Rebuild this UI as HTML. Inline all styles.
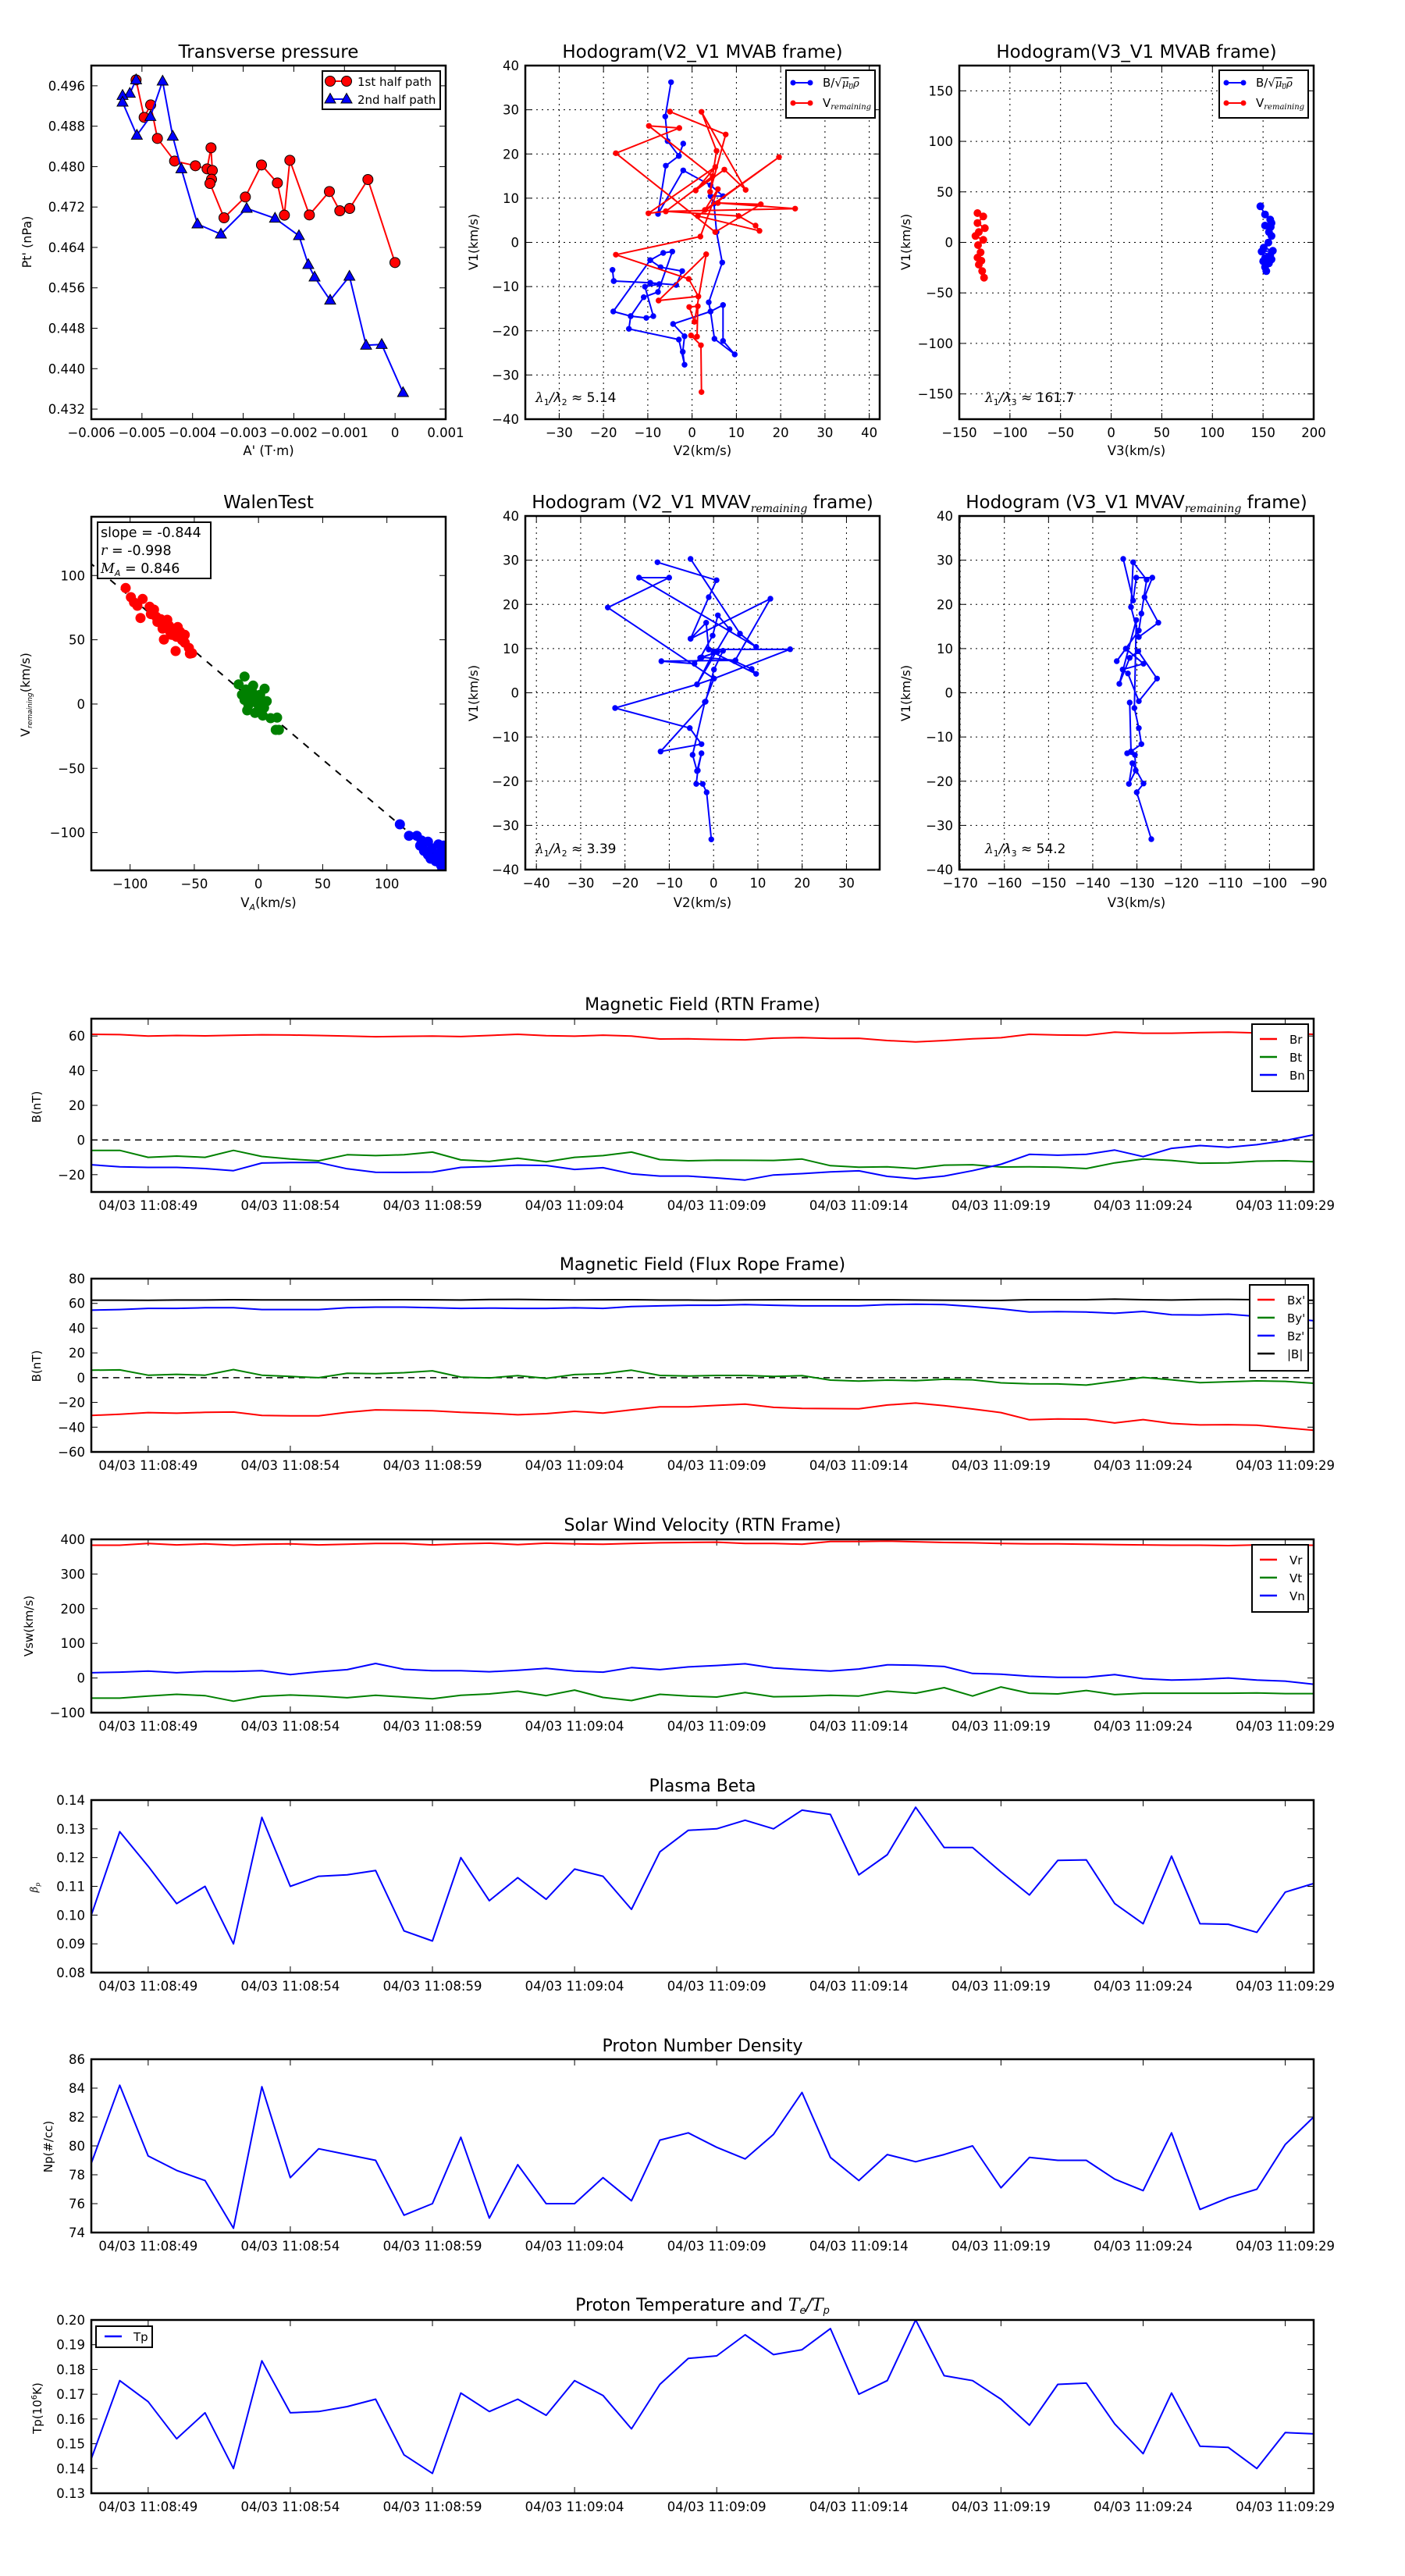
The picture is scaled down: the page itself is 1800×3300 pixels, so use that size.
<!DOCTYPE html>
<html><head><meta charset="utf-8">
<style>
html,body{margin:0;padding:0;background:#fff;}
svg{display:block;font-family:"DejaVu Sans","Liberation Sans",sans-serif;}
</style></head>
<body>
<svg id="s" width="1800" height="3300" viewBox="0 0 1800 3300" xmlns="http://www.w3.org/2000/svg"></svg>
<script>
var S=[];
function A(s){S.push(s);}
function T(x,y,t,size,anchor,extra){A('<text x="'+x+'" y="'+y+'" font-size="'+size+'" text-anchor="'+(anchor||'start')+'" '+(extra||'')+'>'+t+'</text>');}
function L(x1,y1,x2,y2,c,w,extra){A('<line x1="'+x1+'" y1="'+y1+'" x2="'+x2+'" y2="'+y2+'" stroke="'+(c||'#000')+'" stroke-width="'+(w||1)+'" '+(extra||'')+'/>');}
function PL(pts,c,w){A('<polyline fill="none" stroke="'+c+'" stroke-width="'+(w||2)+'" stroke-linejoin="round" points="'+pts.map(function(p){return p[0].toFixed(1)+','+p[1].toFixed(1)}).join(' ')+'"/>');}
function fmtNeg(v){return (v<0?'\u2212':'')+Math.abs(v);}
var cid=0;
function axes(o){
  var Lx=o.L,R=o.R,Tp=o.T,B=o.B;
  var xm=function(v){return Lx+(v-o.x0)/(o.x1-o.x0)*(R-Lx);};
  var ym=function(v){return B-(v-o.y0)/(o.y1-o.y0)*(B-Tp);};
  o.xm=xm;o.ym=ym;
  cid++;o.clip='c'+cid;
  A('<clipPath id="c'+cid+'"><rect x="'+Lx+'" y="'+Tp+'" width="'+(R-Lx)+'" height="'+(B-Tp)+'"/></clipPath>');
  (o.xt||[]).forEach(function(t){var x=xm(t[0]);
    if(o.grid)L(x,Tp,x,B,'#000',1,'stroke-dasharray="2,5"');
    L(x,B,x,B-8);L(x,Tp,x,Tp+8);
    T(x,o.xly||(B+23),t[1],o.fs||16.5,'middle');});
  (o.yt||[]).forEach(function(t){var y=ym(t[0]);
    if(o.grid)L(Lx,y,R,y,'#000',1,'stroke-dasharray="2,5"');
    L(Lx,y,Lx+8,y);L(R,y,R-8,y);
    T(Lx-8,y+6,t[1],o.fs||16.5,'end');});
  return o;
}
function frame(o){A('<rect x="'+o.L+'" y="'+o.T+'" width="'+(o.R-o.L)+'" height="'+(o.B-o.T)+'" fill="none" stroke="#000" stroke-width="2.5"/>');}
function rng(a,b,s,f){var r=[];for(var v=a;v<=b+1e-9;v+=s){var vv=Math.round(v*1e6)/1e6;r.push([vv,f?f(vv):fmtNeg(vv)]);}return r;}
function ylab(x,y,t,size){A('<text x="'+x+'" y="'+y+'" font-size="'+(size||15)+'" text-anchor="middle" transform="rotate(-90 '+x+' '+y+')">'+t+'</text>');}
function dots(pts,c,r,clip){var s='<g fill="'+c+'"'+(clip?' clip-path="url(#'+clip+')"':'')+'>';pts.forEach(function(p){s+='<circle cx="'+p[0].toFixed(1)+'" cy="'+p[1].toFixed(1)+'" r="'+r+'"/>';});A(s+'</g>');}
function Z(ox,oy,arr){var r=[];for(var i=0;i<arr.length;i+=2)r.push([ox+arr[i]/3,oy+arr[i+1]/3]);return r;}

var tp=axes({L:117,R:571,T:84,B:537,x0:-0.006,x1:0.001,y0:0.43,y1:0.5,
 xt:rng(-0.006,0.001,0.001,function(v){return fmtNeg(v.toFixed(3));}),
 yt:rng(0.432,0.496,0.008,function(v){return v.toFixed(3);})});
T(344,74,'Transverse pressure',23,'middle');
T(344,583,"A' (T\u00b7m)",16.5,'middle');
ylab(40,310,"Pt' (nPa)",16);
var red=Z(117,84,[172,55,203,199,228,151,254,280,320,367,400,385,445,397,460,316,465,403,462,437,456,453,510,585,592,505,654,382,715,451,742,575,763,364,838,574,915,484,955,558,993,549,1063,438,1167,757]);
var blu=Z(117,84,[172,55,148,107,120,115,120,141,175,268,227,196,274,60,313,272,346,397,408,609,498,648,597,549,706,587,798,654,834,765,858,813,918,902,992,810,1056,1075,1116,1072,1198,1257]);
PL(red,'#f00',2);
red.forEach(function(p){A('<circle cx="'+p[0]+'" cy="'+p[1]+'" r="6.5" fill="#f00" stroke="#000" stroke-width="1"/>');});
PL(blu,'#00f',2);
function tri(x,y,c){A('<polygon points="'+x+','+(y-7.5)+' '+(x-7)+','+(y+5)+' '+(x+7)+','+(y+5)+'" fill="'+c+'" stroke="#000" stroke-width="1"/>');}
blu.forEach(function(p){tri(p[0],p[1],'#00f');});
frame(tp);
A('<rect x="413" y="91" width="151" height="49" fill="#fff" stroke="#000" stroke-width="2"/>');
L(423,104,444,104,'#f00',2);A('<circle cx="423" cy="104" r="6.5" fill="#f00" stroke="#000"/><circle cx="444" cy="104" r="6.5" fill="#f00" stroke="#000"/>');
L(423,127,444,127,'#00f',2);tri(423,127,'#00f');tri(444,127,'#00f');
T(458,110,'1st half path',15);T(458,133,'2nd half path',15);

function hlegend(x,y){
  A('<rect x="'+x+'" y="'+y+'" width="114" height="61" fill="#fff" stroke="#000" stroke-width="2"/>');
  L(x+9,y+16,x+31,y+16,'#00f',2);dots([[x+9,y+16],[x+31,y+16]],'#00f',3.5);
  L(x+9,y+42,x+31,y+42,'#f00',2);dots([[x+9,y+42],[x+31,y+42]],'#f00',3.5);
  A('<text x="'+(x+47)+'" y="'+(y+21)+'" font-size="15">B/\u221a<tspan font-style="italic" font-family="DejaVu Serif,serif" font-size="13" text-decoration="overline">\u03bc<tspan font-size="9" dy="3">0</tspan><tspan dy="-3">\u03c1</tspan></tspan></text>');
  A('<text x="'+(x+47)+'" y="'+(y+47)+'" font-size="15">V<tspan font-style="italic" font-family="DejaVu Serif,serif" font-size="10" dy="3">remaining</tspan></text>');
}
function lam(x,y,n,v){A('<text x="'+x+'" y="'+y+'" font-size="17"><tspan font-style="italic" font-family="DejaVu Serif,serif">\u03bb</tspan><tspan font-size="11" dy="4">1</tspan><tspan dy="-4" font-style="italic">/\u03bb</tspan><tspan font-size="11" dy="4">'+n+'</tspan><tspan dy="-4"> \u2248 '+v+'</tspan></text>');}

var h2=axes({L:673,R:1127,T:84,B:537,x0:-37.65,x1:42.35,y0:-40,y1:40,grid:true,
 xt:rng(-30,40,10),yt:rng(-40,40,10)});
T(900,74,'Hodogram(V2_V1 MVAB frame)',23,'middle');
T(900,583,'V2(km/s)',16.5,'middle');ylab(612,310,'V1(km/s)',16);
var hb=Z(673,84,[560,64,538,196,547,290,590,347,607,300,590,347,540,385,510,570,607,403,712,460,760,502,712,502,725,530,735,640,757,757,705,910,712,945,760,920,760,1058,805,1110,727,1050,712,945,568,993,612,1040,605,1100,612,1150,590,1053,398,1012,405,963,465,970,492,963,460,850,515,840,480,835,340,828,335,785,340,828,480,835,580,843,603,790,520,775,480,748,530,720,565,715,510,870,455,890,405,963,338,945,480,748]);
var hr=Z(673,84,[556,177,770,265,710,485,735,328,677,178,847,478,765,400,655,480,730,390,473,568,540,560,720,425,475,232,592,240,348,337,730,640,905,533,740,528,1037,550,540,560,820,578,885,615,900,635,663,578,975,352,690,555,740,475,673,657,348,727,628,820,665,887,512,903,695,725,650,985,630,928,663,925,660,1042,637,1037,675,1075,677,1255]);
PL(hb,'#00f',2);dots(hb,'#00f',3.7);PL(hr,'#f00',2);dots(hr,'#f00',3.7);
frame(h2);hlegend(1007,90);lam(686,515,2,'5.14');

var h3=axes({L:1229,R:1683,T:84,B:537,x0:-150,x1:200,y0:-175,y1:175,grid:true,
 xt:rng(-150,200,50),yt:rng(-150,150,50)});
T(1456,74,'Hodogram(V3_V1 MVAB frame)',23,'middle');
T(1456,583,'V3(km/s)',16.5,'middle');ylab(1166,310,'V1(km/s)',16);
var r3=Z(1229,84,[70,567,92,580,70,605,98,625,75,640,62,655,92,670,72,690,82,718,70,738,85,750,75,765,88,790,95,815]);
var b3=Z(1229,84,[1157,541,1175,572,1195,592,1200,605,1175,615,1197,620,1190,640,1200,655,1188,680,1170,700,1205,712,1162,715,1195,730,1175,740,1200,745,1168,752,1190,760,1175,775,1180,790]);
PL(r3,'#f00',2);dots(r3,'#f00',5);PL(b3,'#00f',2);dots(b3,'#00f',5);
frame(h3);hlegend(1562,90);lam(1262,515,3,'161.7');

var w=axes({L:117,R:571,T:662,B:1115,x0:-130.2,x1:145.8,y0:-129.4,y1:145.7,
 xt:rng(-100,100,50),yt:rng(-100,100,50)});
T(344,651,'WalenTest',23,'middle');
A('<text x="344" y="1162" font-size="16.5" text-anchor="middle">V<tspan font-size="11" font-style="italic" dy="4">A</tspan><tspan dy="-4">(km/s)</tspan></text>');
A('<text x="38" y="890" font-size="16" text-anchor="middle" transform="rotate(-90 38 890)">V<tspan font-size="9" font-style="italic" dy="3">remaining</tspan><tspan dy="-3">(km/s)</tspan></text>');
A('<g clip-path="url(#'+w.clip+')"><line x1="100" y1="708" x2="580" y2="1114" stroke="#000" stroke-width="2" stroke-dasharray="9,9"/></g>');
var wr=Z(100,650,[183,310,203,345,215,365,228,378,248,352,275,382,292,393,280,410,240,425,318,430,343,432,325,466,350,455,366,470,383,460,392,478,378,497,410,490,330,508,410,520,426,540,375,552,430,562,438,560,395,500,360,490,300,420,340,450,305,440,355,480,400,510]);
var wg=Z(100,650,[640,650,617,680,645,700,673,685,717,697,630,720,660,730,700,720,725,745,655,760,695,765,650,780,680,790,710,800,740,810,765,808,760,855,772,855,690,740,705,780,670,710,640,740,685,750,715,770]);
var wb=Z(100,650,[1237,1218,1272,1262,1302,1262,1320,1280,1345,1285,1385,1295,1360,1310,1330,1320,1400,1320,1345,1335,1380,1340,1400,1345,1375,1360,1395,1375,1400,1390,1405,1300,1315,1300,1355,1350,1390,1330]);
dots(wr,'#f00',6.5,w.clip);dots(wg,'#008000',6.5,w.clip);dots(wb,'#00f',6.5,w.clip);
frame(w);
A('<rect x="125" y="669" width="145" height="72" fill="#fff" stroke="#000" stroke-width="2"/>');
T(129,688,'slope = -0.844',17.5);
A('<text x="129" y="711" font-size="17.5"><tspan font-style="italic" font-family="DejaVu Serif,serif">r</tspan> = -0.998</text>');
A('<text x="129" y="734" font-size="17.5"><tspan font-style="italic" font-family="DejaVu Serif,serif">M</tspan><tspan font-size="11" font-style="italic" dy="4">A</tspan><tspan dy="-4"> = 0.846</tspan></text>');

var g2=axes({L:673,R:1127,T:661,B:1114,x0:-42.5,x1:37.5,y0:-40,y1:40,grid:true,
 xt:rng(-40,30,10),yt:rng(-40,40,10),xly:1137});
A('<text x="900" y="651" font-size="23" text-anchor="middle">Hodogram (V2_V1 MVAV<tspan font-size="14" font-style="italic" font-family="DejaVu Serif,serif" dy="5">remaining</tspan><tspan dy="-5"> frame)</tspan></text>');
T(900,1162,'V2(km/s)',16.5,'middle');ylab(612,888,'V1(km/s)',16);
var p2=Z(673,661,[635,165,825,452,887,503,437,237,553,237,317,352,725,625,1018,512,705,513,695,410,635,472,942,318,805,558,870,588,887,607,723,525,660,647,785,435,740,382,720,460,672,545,650,568,523,558,808,555,678,543,738,523,760,518,725,590,693,713,520,905,677,877,632,815,345,738,660,647,725,625,690,715,643,918,660,980,677,912,663,978,657,1030,682,1030,697,1062,715,1243]);
var p2b=Z(673,661,[508,178,735,247,705,312,635,472]);
PL(p2,'#00f',2);PL(p2b,'#00f',2);dots(p2,'#00f',3.7);dots(p2b,'#00f',3.7);
frame(g2);lam(686,1093,2,'3.39');

var g3=axes({L:1229,R:1683,T:661,B:1114,x0:-170.2,x1:-90,y0:-40,y1:40,grid:true,
 xt:rng(-170,-90,10),yt:rng(-40,40,10),xly:1137});
A('<text x="1456" y="651" font-size="23" text-anchor="middle">Hodogram (V3_V1 MVAV<tspan font-size="14" font-style="italic" font-family="DejaVu Serif,serif" dy="5">remaining</tspan><tspan dy="-5"> frame)</tspan></text>');
T(1456,1162,'V3(km/s)',16.5,'middle');ylab(1166,888,'V1(km/s)',16);
var p3=Z(1229,661,[630,165,668,325,680,237,742,237,712,312,765,410,690,465,660,350,668,178,720,245,700,375,690,440,605,558,640,510,708,568,628,590,648,605,690,712,760,625,688,520,655,545,615,645,680,400,673,738,690,815,700,877,660,905,655,717,660,905,645,912,675,918,678,978,652,1030,665,950,708,1028,682,1062,738,1242]);
PL(p3,'#00f',2);dots(p3,'#00f',3.7);
frame(g3);lam(1262,1093,3,'54.2');

var tlabels=['04/03 11:08:49','04/03 11:08:54','04/03 11:08:59','04/03 11:09:04','04/03 11:09:09','04/03 11:09:14','04/03 11:09:19','04/03 11:09:24','04/03 11:09:29'];
function ts(o){
  o.L=117;o.R=1683;o.x0=0;o.x1=43;
  o.xt=tlabels.map(function(l,k){return [2+5*k,l];});
  o.xly=o.B+23;
  axes(o);
  if(o.title)T(900,o.title_y,o.title,22,'middle');
  if(o.zero)L(o.L,o.ym(0),o.R,o.ym(0),'#000',1.5,'stroke-dasharray="8,6"');
  A('<g clip-path="url(#'+o.clip+')">');
  o.series.forEach(function(s){PL(s.d.map(function(v,i){return [o.xm(i),o.ym(v)];}),s.c,2);});
  A('</g>');
  frame(o);
  return o;
}
function legend(x,y,w,items){
  var h=items.length*24+14;
  A('<rect x="'+x+'" y="'+y+'" width="'+w+'" height="'+h+'" fill="#fff" stroke="#000" stroke-width="2"/>');
  items.forEach(function(it,i){var yy=y+19+i*23;L(x+10,yy,x+32,yy,it[1],2.5);T(x+48,yy+6,it[0],15);});
}
var Br=[61,60.8,60,60.3,60.1,60.4,60.7,60.6,60.3,60,59.6,59.8,60,59.7,60.3,61,60.2,59.9,60.5,60,58.3,58.4,58,57.8,58.8,59.1,58.6,58.7,57.4,56.6,57.4,58.4,59,61,60.6,60.4,62.2,61.6,61.6,62,62.2,61.8,61.6,61];
var Bt=[-6,-6,-10,-9.3,-10,-6,-9.5,-11,-12,-8.5,-9,-8.5,-7,-11.5,-12.3,-10.5,-12.5,-10,-9,-7,-11.3,-12,-11.6,-11.7,-11.8,-11,-14.8,-15.7,-15.5,-16.5,-14.5,-14.3,-15.6,-15.5,-15.7,-16.5,-13.2,-11,-11.8,-13.4,-13.2,-12.2,-12,-12.5];
var Bn=[-14.3,-15.5,-15.8,-15.8,-16.5,-17.7,-13.3,-13,-13,-16.6,-18.6,-18.7,-18.5,-15.8,-15.3,-14.5,-14.7,-17,-16,-19.5,-20.8,-20.8,-21.9,-23.1,-20.2,-19.4,-18.4,-17.8,-21,-22.4,-20.8,-17.7,-14,-8.3,-8.8,-8.3,-5.8,-9.6,-4.8,-3.2,-4.2,-2.7,-0.3,3];
ts({T:1305,B:1527,y0:-30,y1:70,yt:rng(-20,60,20),zero:true,title:'Magnetic Field (RTN Frame)',title_y:1294,
 series:[{d:Br,c:'#f00'},{d:Bt,c:'#008000'},{d:Bn,c:'#00f'}]});
ylab(52,1418,'B(nT)',15);
legend(1604,1312,72,[['Br','#f00'],['Bt','#008000'],['Bn','#00f']]);

var BB=[62.6,62.6,62.5,62.7,62.7,63,62.8,62.8,62.8,62.8,62.9,63,62.9,62.7,63.1,63.2,63,62.8,62.9,63,62.7,62.7,62.6,62.8,62.9,63,63,62.9,62.9,62.7,62.6,62.5,62.4,63,63,63,63.4,63,62.7,63.1,63.2,63,62.5,62.5];
var Bz=[54.5,55,56,56,56.5,56.5,55,55,55,56.5,57,57,56.5,56,56.2,56,56,56.4,56,57.5,58,58.5,58.5,59,58.5,58,58,58,59,59.3,59,57.5,55.5,53,53.3,53,52,53.5,50.8,50.6,51.3,49.5,48,46];
var By=[6,6.3,2,2.7,2,6.5,2,1,0,3.5,3.2,4,5.5,0.5,-0.2,1.6,-0.5,2.5,3.2,6,1.8,1.3,1.8,1.8,1,1.6,-2,-2.8,-2,-2.5,-1.3,-1.7,-4.2,-5,-5.1,-6,-3,0.2,-1.7,-4,-3.3,-2.6,-3,-4.5];
var Bx=[-30.5,-29.6,-28.2,-28.7,-28,-27.8,-30.5,-30.8,-30.8,-28,-26,-26.3,-26.7,-28,-28.8,-30,-29.1,-27.2,-28.6,-26,-23.6,-23.6,-22.4,-21.4,-24,-24.8,-25,-25.2,-22.1,-20.5,-22.6,-25.3,-28.2,-34,-33.3,-33.6,-36.6,-33.9,-37,-38.2,-38,-38.4,-40.5,-42.5];
ts({T:1638,B:1860,y0:-60,y1:80,yt:rng(-60,80,20),zero:true,title:'Magnetic Field (Flux Rope Frame)',title_y:1627,
 series:[{d:Bx,c:'#f00'},{d:By,c:'#008000'},{d:Bz,c:'#00f'},{d:BB,c:'#000'}]});
ylab(52,1750,'B(nT)',15);
legend(1601,1646,75,[["Bx'",'#f00'],["By'",'#008000'],["Bz'",'#00f'],['|B|','#000']]);

var Vr=[383,383,388,384,387,383,386,387,384,386,388,388,384,387,389,385,389,387,386,388,390,391,392,388,388,386,394,394,395,393,391,390,388,387,387,386,385,384,383,383,382,384,383,383];
var Vn=[15,17,20,15,19,19,21,10,18,24,42,25,21,21,18,22,28,20,17,30,24,32,36,41,29,24,20,26,38,37,33,13,11,5,2,2,10,-2,-6,-4,0,-6,-9,-18];
var Vt=[-58,-58,-52,-47,-51,-67,-53,-49,-52,-57,-50,-55,-60,-50,-46,-38,-51,-35,-56,-65,-47,-52,-55,-42,-54,-53,-50,-52,-38,-44,-28,-52,-26,-44,-46,-36,-48,-44,-44,-44,-44,-43,-45,-45];
ts({T:1972,B:2194,y0:-100,y1:400,yt:rng(-100,400,100),title:'Solar Wind Velocity (RTN Frame)',title_y:1961,
 series:[{d:Vr,c:'#f00'},{d:Vt,c:'#008000'},{d:Vn,c:'#00f'}]});
ylab(42,2083,'Vsw(km/s)',15);
legend(1604,1979,72,[['Vr','#f00'],['Vt','#008000'],['Vn','#00f']]);

var beta=[0.100,0.129,0.117,0.104,0.110,0.090,0.134,0.110,0.1135,0.114,0.1155,0.0945,0.091,0.120,0.105,0.113,0.1055,0.116,0.1135,0.102,0.122,0.1295,0.130,0.133,0.130,0.1365,0.135,0.114,0.121,0.1375,0.1235,0.1235,0.115,0.107,0.119,0.1192,0.104,0.097,0.1205,0.097,0.0968,0.094,0.108,0.111];
ts({T:2306,B:2527,y0:0.08,y1:0.14,yt:rng(0.08,0.14,0.01,function(v){return v.toFixed(2);}),title:'Plasma Beta',title_y:2295,
 series:[{d:beta,c:'#00f'}]});
A('<text x="48" y="2418" font-size="13" font-style="italic" font-family="DejaVu Serif,serif" text-anchor="middle" transform="rotate(-90 48 2418)">\u03b2<tspan font-size="8" dy="3">p</tspan></text>');

var np=[78.8,84.2,79.3,78.3,77.6,74.3,84.1,77.8,79.8,79.4,79.0,75.2,76.0,80.6,75.0,78.7,76.0,76.0,77.8,76.2,80.4,80.9,79.9,79.1,80.8,83.7,79.2,77.6,79.4,78.9,79.4,80.0,77.1,79.2,79.0,79.0,77.7,76.9,80.9,75.6,76.4,77.0,80.1,82.0];
ts({T:2638,B:2860,y0:74,y1:86,yt:rng(74,86,2),title:'Proton Number Density',title_y:2628,
 series:[{d:np,c:'#00f'}]});
ylab(67,2750,'Np(#/cc)',15);

var tpd=[0.144,0.1755,0.167,0.152,0.1625,0.140,0.1835,0.1625,0.163,0.165,0.168,0.1455,0.138,0.1705,0.163,0.168,0.1615,0.1755,0.1695,0.156,0.174,0.1845,0.1855,0.194,0.186,0.188,0.1965,0.170,0.1755,0.200,0.1775,0.1755,0.168,0.1575,0.174,0.1745,0.158,0.146,0.1705,0.149,0.1485,0.140,0.1545,0.154];
ts({T:2972,B:3194,y0:0.13,y1:0.20,yt:rng(0.13,0.20,0.01,function(v){return v.toFixed(2);}),title:'',title_y:2960,
 series:[{d:tpd,c:'#00f'}]});
A('<text x="900" y="2960" font-size="22" text-anchor="middle">Proton Temperature and <tspan font-style="italic" font-family="DejaVu Serif,serif">T</tspan><tspan font-size="13" font-style="italic" dy="4">e</tspan><tspan dy="-4" font-style="italic" font-family="DejaVu Serif,serif">/T</tspan><tspan font-size="13" font-style="italic" dy="4">p</tspan></text>');
A('<text x="53" y="3085" font-size="15" text-anchor="middle" transform="rotate(-90 53 3085)">Tp(10<tspan font-size="10" dy="-6">6</tspan><tspan dy="6">K)</tspan></text>');
A('<rect x="123" y="2980" width="72" height="27" fill="#fff" stroke="#000" stroke-width="2"/>');
L(134,2993,156,2993,'#00f',2.5);T(171,2999,'Tp',15);

document.getElementById('s').innerHTML=S.join('');
</script>
</body></html>
